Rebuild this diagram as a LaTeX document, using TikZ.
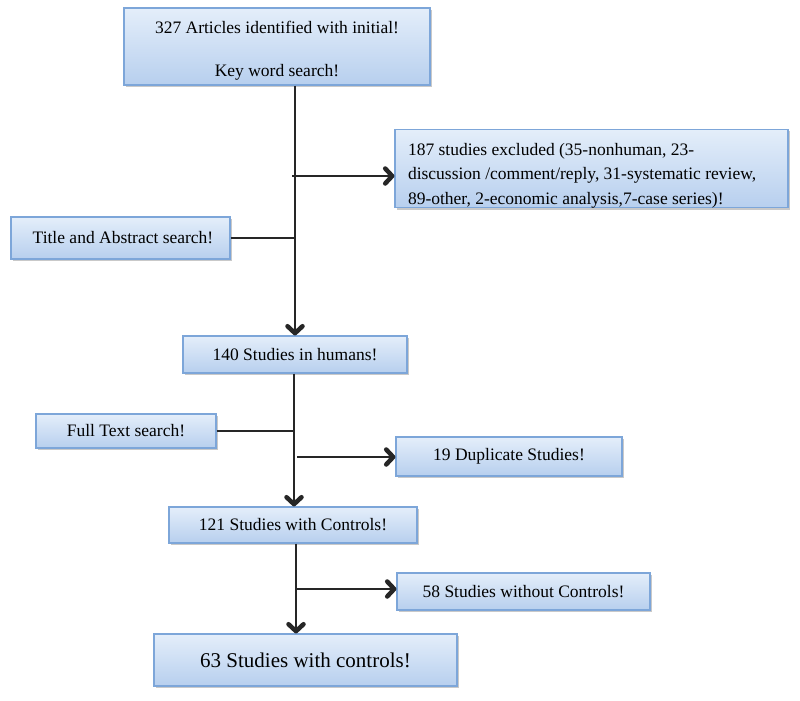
\documentclass[tikz,border=0pt]{standalone}
\usepackage{fontspec}
\setmainfont{Liberation Serif}
\usetikzlibrary{calc}
\usetikzlibrary{arrows.meta,shadows}
\definecolor{boxtop}{HTML}{E4EEFA}
\definecolor{boxbot}{HTML}{B7CFEE}
\definecolor{boxline}{HTML}{7DA6D9}
\tikzset{
	flowbox/.style={draw=boxline, line width=1.1pt, top color=boxtop, bottom color=boxbot,
		drop shadow={shadow xshift=2pt, shadow yshift=-2pt, opacity=.35, fill=black!60},
		font=\fontsize{17.5}{21}\selectfont, inner sep=0pt, align=center},
	flowline/.style={line width=1.3pt, black!85},
	flowarrow/.style={flowline, -{Straight Barb[length=7pt,width=15pt,line width=4.5pt,line cap=round,line join=round]}},
}

\begin{document}
\begin{tikzpicture}[x=1pt,y=-1pt]
		\useasboundingbox[fill=white] (0,0) rectangle (800,701);
		% boxes
		\node[flowbox, minimum width=306pt, minimum height=77pt] (top) at (277,46.5) {\rule{0pt}{21pt}327 Articles identified with initial!\\[22pt] Key word search!};
		\node[flowbox, minimum width=393pt, minimum height=77pt, text width=367pt, align=flush left, font=\fontsize{17.5}{24.5}\selectfont] (excl) at (591.5,168.5) {\rule{0pt}{26pt}187 studies excluded (35-nonhuman, 23-\\ discussion /comment/reply, 31-systematic review,\\ 89-other, 2-economic analysis,7-case series)!};
		\node[flowbox, minimum width=219pt, minimum height=42pt] (title) at (120.5,238) {\hspace{5pt}Title and Abstract search!};
		\node[flowbox, minimum width=224pt, minimum height=37pt] (humans) at (295,354.5) {140 Studies in humans!};
		\node[flowbox, minimum width=180pt, minimum height=34pt] (fulltext) at (126,431) {Full Text search!};
		\node[flowbox, minimum width=226pt, minimum height=39pt] (dup) at (509,456.5) {19 Duplicate Studies!};
		\node[flowbox, minimum width=248pt, minimum height=36pt] (ctrl) at (293,525) {121 Studies with Controls!};
		\node[flowbox, minimum width=253pt, minimum height=37pt] (noctrl) at (523.5,591.5) {58 Studies without Controls!};
		\node[flowbox, minimum width=303pt, minimum height=52pt, font=\fontsize{21}{25}\selectfont] (final) at (305.5,660) {63 Studies with controls!};
		% junctions
		\coordinate (j1) at (292,176);
		\coordinate (j2) at (297,457);
		\coordinate (j3) at (296,589);
		% connectors
		\draw[flowarrow] (top.south -| humans) -- (humans.north);
		\draw[flowarrow] (j1) -- (j1 -| excl.west);
		\draw[flowline] (title.east) -- (title.east -| humans);
		\draw[flowarrow] (humans.south -| 294,0) -- (ctrl.north -| 294,0);
		\draw[flowline] (fulltext.east) -- (fulltext.east -| 294,0);
		\draw[flowarrow] (j2) -- (j2 -| dup.west);
		\draw[flowarrow] (ctrl.south -| j3) -- (final.north -| j3);
		\draw[flowarrow] (j3) -- (j3 -| noctrl.west);
	\end{tikzpicture}
\end{document}
